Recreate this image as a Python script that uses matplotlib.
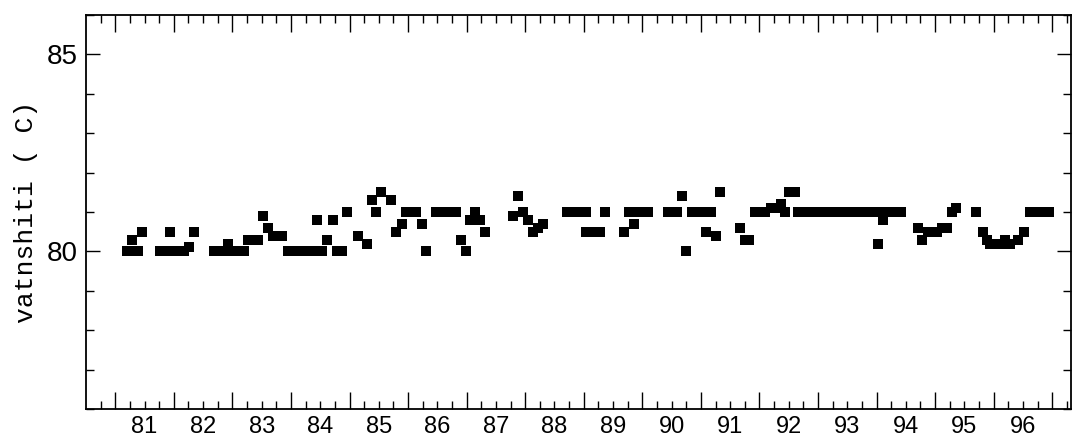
import numpy as np
import matplotlib
matplotlib.use("Agg")
import matplotlib.pyplot as plt

# =============================================================================
# Daten (Jahr als Dezimalzahl, Wert in C)
# =============================================================================
years = [81.20, 81.29, 81.29, 81.38, 81.46,
         81.77, 81.85, 81.94, 81.94, 82.02, 82.11, 82.18, 82.26, 82.35,
         82.69, 82.78, 82.84, 82.93, 82.93, 83.02, 83.10, 83.19,
         83.27, 83.36, 83.44, 83.53, 83.61, 83.70, 83.78, 83.85,
         83.95, 84.04, 84.13, 84.21, 84.28, 84.36, 84.45, 84.45, 84.53,
         84.62, 84.71, 84.79, 84.88, 84.96,
         85.15, 85.29, 85.39, 85.46, 85.54, 85.71, 85.80, 85.90, 85.97,
         86.05, 86.14, 86.23, 86.31, 86.48, 86.57, 86.65, 86.74, 86.82,
         86.91, 86.99, 87.06, 87.15, 87.15, 87.22, 87.32,
         87.80, 87.88, 87.97, 88.05, 88.14, 88.22, 88.31,
         88.72, 88.80, 88.89, 88.96, 89.04, 89.04, 89.13, 89.21, 89.28, 89.37,
         89.69, 89.78, 89.86, 89.86, 89.95, 90.02, 90.10,
         90.43, 90.51, 90.60, 90.67, 90.75, 90.84, 90.92, 91.01, 91.09,
         91.08, 91.18, 91.25, 91.33,
         91.66, 91.76, 91.83, 91.93, 92.01, 92.10, 92.19, 92.27, 92.36,
         92.44, 92.51, 92.60,
         92.66, 92.74, 92.83, 92.91, 92.99, 93.08, 93.16, 93.24, 93.33,
         93.41, 93.49, 93.58, 93.66, 93.74, 93.83, 93.91, 93.99, 94.08,
         94.16, 94.24, 94.33, 94.41, 94.03, 94.11,
         94.70, 94.78, 94.87, 94.95, 95.04, 95.12, 95.21, 95.28, 95.36,
         95.70, 95.81, 95.89, 95.94, 96.03, 96.11, 96.20, 96.20, 96.28,
         96.42, 96.52, 96.62, 96.71, 96.78, 96.86, 96.95]
temps = [80.0, 80.0, 80.3, 80.0, 80.5,
         80.0, 80.0, 80.0, 80.5, 80.0, 80.0, 80.0, 80.1, 80.5,
         80.0, 80.0, 80.0, 80.0, 80.2, 80.0, 80.0, 80.0,
         80.3, 80.3, 80.3, 80.9, 80.6, 80.4, 80.4, 80.4,
         80.0, 80.0, 80.0, 80.0, 80.0, 80.0, 80.0, 80.8, 80.0,
         80.3, 80.8, 80.0, 80.0, 81.0,
         80.4, 80.2, 81.3, 81.0, 81.5, 81.3, 80.5, 80.7, 81.0,
         81.0, 81.0, 80.7, 80.0, 81.0, 81.0, 81.0, 81.0, 81.0,
         80.3, 80.0, 80.8, 81.0, 80.8, 80.8, 80.5,
         80.9, 81.4, 81.0, 80.8, 80.5, 80.6, 80.7,
         81.0, 81.0, 81.0, 81.0, 81.0, 80.5, 80.5, 80.5, 80.5, 81.0,
         80.5, 81.0, 81.0, 80.7, 81.0, 81.0, 81.0,
         81.0, 81.0, 81.0, 81.4, 80.0, 81.0, 81.0, 81.0, 81.0,
         80.5, 81.0, 80.4, 81.5,
         80.6, 80.3, 80.3, 81.0, 81.0, 81.0, 81.1, 81.1, 81.2,
         81.0, 81.5, 81.5,
         81.0, 81.0, 81.0, 81.0, 81.0, 81.0, 81.0, 81.0, 81.0,
         81.0, 81.0, 81.0, 81.0, 81.0, 81.0, 81.0, 81.0, 81.0,
         81.0, 81.0, 81.0, 81.0, 80.2, 80.8,
         80.6, 80.3, 80.5, 80.5, 80.5, 80.6, 80.6, 81.0, 81.1,
         81.0, 80.5, 80.3, 80.2, 80.2, 80.2, 80.2, 80.3, 80.2,
         80.3, 80.5, 81.0, 81.0, 81.0, 81.0, 81.0]

year_labels = ["81", "82", "83", "84", "85", "86", "87", "88",
               "89", "90", "91", "92", "93", "94", "95", "96"]
ylabel_text = "vatnshiti ( C)"

# =============================================================================
# Plot
# =============================================================================
fig = plt.figure(figsize=(10.74, 4.41), dpi=100)
ax = fig.add_axes([86 / 1074, 1 - 409 / 441, (1071 - 86) / 1074, (409 - 15) / 441])

ax.plot(years, temps, linestyle="none", marker="s", markersize=6.5,
        color="black", markeredgewidth=0)

ax.set_xlim(80.5, 97.32)
ax.set_ylim(76, 86)

# x: Jahresgrenzen als Hauptstriche, Quartale als Nebenstriche, Beschriftung in Jahresmitte
major_x = np.arange(81, 98)
minor_x = np.arange(80.75, 97.3, 0.25)
minor_lab = []
for v in minor_x:
    frac = v - np.floor(v)
    yr = int(np.floor(v))
    if abs(frac - 0.5) < 1e-6 and str(yr) in year_labels:
        minor_lab.append(str(yr))
    else:
        minor_lab.append("")
ax.set_xticks(major_x, labels=[""] * len(major_x))
ax.set_xticks(minor_x, labels=minor_lab, minor=True)

ax.set_yticks([80, 85], labels=["80", "85"])
ax.set_yticks(np.arange(76, 87, 1), minor=True)

ax.tick_params(which="both", direction="in", top=True, right=True, width=1.0,
               colors="black")
ax.tick_params(axis="x", which="major", length=12)
ax.tick_params(axis="x", which="minor", length=5.5, pad=5, labelsize=17)
ax.tick_params(axis="y", which="major", length=10, pad=6, labelsize=20)
ax.tick_params(axis="y", which="minor", length=5.5)
for lab in ax.get_xticklabels(minor=True) + ax.get_yticklabels():
    lab.set_fontfamily("Liberation Sans")

for sp in ax.spines.values():
    sp.set_linewidth(1.3)

ax.set_ylabel(ylabel_text, fontsize=19, fontfamily="Liberation Mono")
ax.yaxis.set_label_coords(-0.049, 0.5)

fig.savefig("out.png", dpi=100)
